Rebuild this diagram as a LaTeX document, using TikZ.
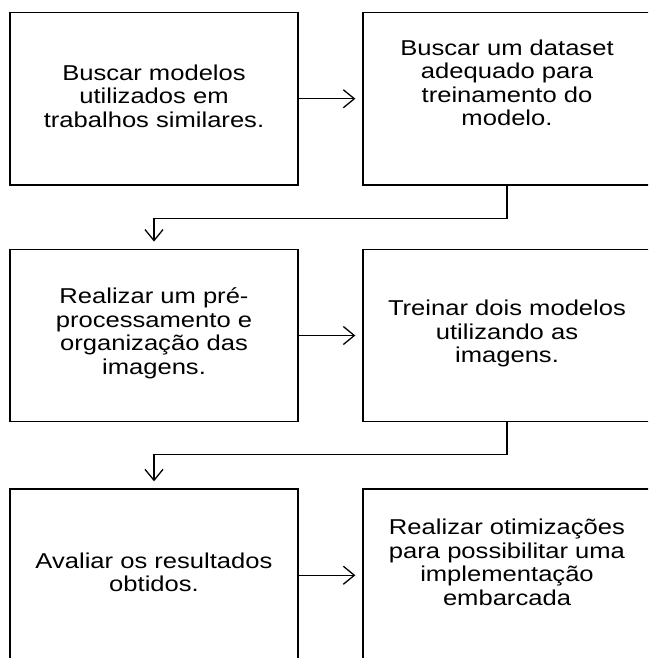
\documentclass[tikz,border=0pt]{standalone}
\usepackage{fontspec}
\setmainfont{Liberation Sans}[FakeStretch=1.19]
\usetikzlibrary{arrows.meta}
\begin{document}
\begin{tikzpicture}[x=1pt,y=-1pt,
  box/.style={draw, line width=1.3pt, minimum width=288pt, minimum height=172.5pt, inner sep=0pt},
  txt/.style={inner sep=0pt, align=center, font=\fontsize{21.5}{23.5}\selectfont},
  arr/.style={line width=1.3pt, -{Straight Barb[length=11pt,width=18pt,line width=1.3pt]}, shorten >=7pt}]
\clip (0,0) rectangle (648,658);
\useasboundingbox (0,0) rectangle (648,658);
\node[box] (b1) at (154,98.75) {};
\node[box] (b2) at (507,98.75) {};
\node[box] (b3) at (154,335.5) {};
\node[box] (b4) at (507,335.5) {};
\node[box] (b5) at (154,575.25) {};
\node[box] (b6) at (507,575.25) {};
\node[txt] (t1) at (154,96) {Buscar modelos\\utilizados em\\trabalhos similares.};
\node[txt] (t2) at (507,83) {Buscar um dataset\\adequado para\\treinamento do\\modelo.};
\node[txt] (t3) at (154,333.5) {Realizar um pré-\\processamento e\\organização das\\imagens.};
\node[txt] (t4) at (507,333.5) {Treinar dois modelos\\utilizando as\\imagens.};
\node[txt] (t5) at (154,572.5) {Avaliar os resultados\\obtidos.};
\node[txt] (t6) at (507,562.5) {Realizar otimizações\\para possibilitar uma\\implementação\\embarcada};
\draw[arr] (b1.east) -- (b2.west);
\draw[arr] (b3.east) -- (b4.west);
\draw[arr] (b5.east) -- (b6.west);
\draw[arr] (b2.south) -- ++(0,33) -| (b3.north);
\draw[arr] (b4.south) -- ++(0,32) -| (b5.north);
\end{tikzpicture}
\end{document}
